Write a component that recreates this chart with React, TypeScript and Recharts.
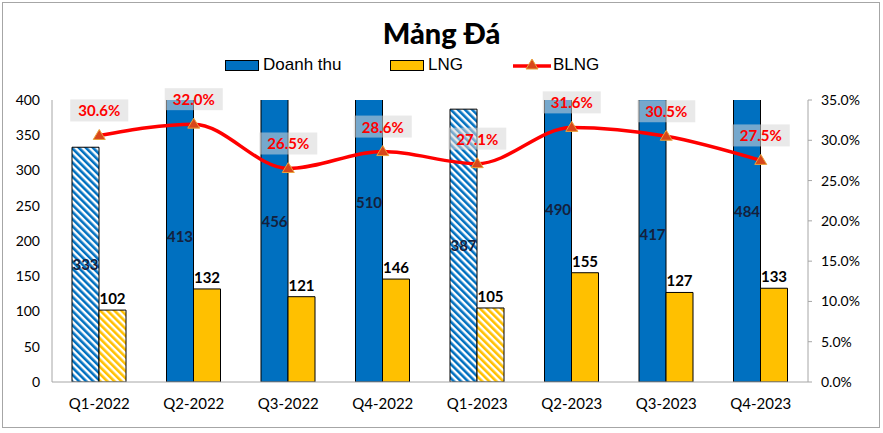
import { ComposedChart, Bar, Line, XAxis, YAxis, Cell, LabelList } from 'recharts';

const quarters = ['Q1-2022', 'Q2-2022', 'Q3-2022', 'Q4-2022', 'Q1-2023', 'Q2-2023', 'Q3-2023', 'Q4-2023'];
const doanhThu = [333, 413, 456, 510, 387, 490, 417, 484];
const lng = [102, 132, 121, 146, 105, 155, 127, 133];
const blng = [0.306, 0.32, 0.265, 0.286, 0.271, 0.316, 0.305, 0.275];
const hatched = [true, false, false, false, true, false, false, false];
const leftTicks = [0, 50, 100, 150, 200, 250, 300, 350, 400];
const rightTicks = [0, 0.05, 0.1, 0.15, 0.2, 0.25, 0.3, 0.35];

const chartData = quarters.map((q, i) => ({
  quarter: q,
  doanhThu: doanhThu[i],
  lng: lng[i],
  blng: blng[i]
}));

const BLUE = '#0070c0';
const YELLOW = '#ffc000';
const FONT = 'Lato, "Open Sans", sans-serif';
const LEGEND_FONT = '"Liberation Sans", Arial, sans-serif';

const pct = (v: number) => `${(v * 100).toFixed(1)}%`;

const Triangle = (props: any) => {
  const { cx, cy } = props;
  if (cx == null || cy == null) return null;
  return (
    <path
      d={`M${cx},${cy - 6} L${cx + 6},${cy + 4} L${cx - 6},${cy + 4} Z`}
      fill="#d8461b"
      stroke="#e9a23b"
      strokeWidth={1}
    />
  );
};

const RatioLabel = (props: any) => {
  const { x, y, value } = props;
  if (x == null || y == null) return null;
  const cy = y - 25;
  return (
    <g>
      <rect x={x - 29} y={cy - 11} width={58} height={22} fill="rgba(215,215,215,0.55)" />
      <text
        x={x}
        y={cy}
        textAnchor="middle"
        dominantBaseline="central"
        fill="#ff0000"
        fontFamily={FONT}
        fontWeight={700}
        fontSize={15}
      >
        {pct(value)}
      </text>
    </g>
  );
};

export default function App() {
  return (
    <div style={{ position: 'absolute', left: 0, top: 0, width: 883, height: 433, background: '#fff' }}>
      <div
        style={{
          position: 'absolute',
          left: 2,
          top: 2,
          width: 876,
          height: 424,
          border: '1px solid #a6a6a6'
        }}
      />
      <div
        style={{
          position: 'absolute',
          left: 0,
          width: 883,
          top: 15,
          textAlign: 'center',
          fontFamily: FONT,
          fontWeight: 900,
          fontSize: 29,
          color: '#000'
        }}
      >
        Mảng Đá
      </div>
      <div
        style={{
          position: 'absolute',
          top: 55,
          left: 225,
          display: 'flex',
          alignItems: 'center',
          fontFamily: LEGEND_FONT,
          fontSize: 17,
          color: '#000'
        }}
      >
        <div style={{ width: 32, height: 9, background: BLUE, border: '1px solid #000' }} />
        <span style={{ marginLeft: 4, width: 127 }}>Doanh thu</span>
        <div style={{ width: 32, height: 9, background: YELLOW, border: '1px solid #000' }} />
        <span style={{ marginLeft: 4, width: 85 }}>LNG</span>
        <svg width={38} height={14}>
          <line x1={0} y1={8} x2={38} y2={8} stroke="#ff0000" strokeWidth={3.5} />
          <Triangle cx={19} cy={7} />
        </svg>
        <span style={{ marginLeft: 2 }}>BLNG</span>
      </div>
      <ComposedChart
        width={883}
        height={433}
        data={chartData}
        margin={{ top: 100, right: 0, bottom: 21, left: 0 }}
        barGap={0}
        style={{ position: 'absolute', left: 0, top: 0 }}
      >
        <defs>
          <pattern id="hatchBlue" patternUnits="userSpaceOnUse" width={5} height={5} patternTransform="rotate(-45)">
            <rect width={5} height={5} fill="#fff" />
            <rect width={2.6} height={5} fill={BLUE} />
          </pattern>
          <pattern id="hatchYellow" patternUnits="userSpaceOnUse" width={5} height={5} patternTransform="rotate(-45)">
            <rect width={5} height={5} fill="#fff" />
            <rect width={2.6} height={5} fill={YELLOW} />
          </pattern>
        </defs>
        <XAxis
          dataKey="quarter"
          tickLine={false}
          axisLine={{ stroke: '#a6a6a6' }}
          tickMargin={10}
          tick={{ fill: '#000', fontFamily: FONT, fontSize: 15 }}
          interval={0}
        />
        <YAxis
          yAxisId="left"
          width={52}
          domain={[0, 400]}
          ticks={leftTicks}
          allowDataOverflow
          tickLine={false}
          axisLine={{ stroke: '#a6a6a6' }}
          tickMargin={6}
          tick={{ fill: '#000', fontFamily: FONT, fontSize: 14 }}
        />
        <YAxis
          yAxisId="right"
          orientation="right"
          width={75}
          domain={[0, 0.35]}
          ticks={rightTicks}
          tickFormatter={pct}
          tickSize={4}
          tickLine={{ stroke: '#a6a6a6' }}
          axisLine={{ stroke: '#a6a6a6' }}
          tickMargin={9}
          tick={{ fill: '#000', fontFamily: FONT, fontSize: 14, textAnchor: 'start' }}
        />
        <Bar
          yAxisId="left"
          dataKey="doanhThu"
          barSize={27}
          stroke="#000"
          strokeWidth={1}
          fill={BLUE}
          isAnimationActive={false}
        >
          {chartData.map((_, i) => (
            <Cell key={i} fill={hatched[i] ? 'url(#hatchBlue)' : BLUE} />
          ))}
          <LabelList
            dataKey="doanhThu"
            position="center"
            fill="#14213d"
            fontFamily={FONT}
            fontWeight={700}
            fontSize={15}
          />
        </Bar>
        <Bar
          yAxisId="left"
          dataKey="lng"
          barSize={27}
          stroke="#000"
          strokeWidth={1}
          fill={YELLOW}
          isAnimationActive={false}
        >
          {chartData.map((_, i) => (
            <Cell key={i} fill={hatched[i] ? 'url(#hatchYellow)' : YELLOW} />
          ))}
          <LabelList
            dataKey="lng"
            position="top"
            offset={6}
            fill="#000"
            fontFamily={FONT}
            fontWeight={700}
            fontSize={15}
          />
        </Bar>
        <Line
          yAxisId="right"
          dataKey="blng"
          type="monotone"
          stroke="#ff0000"
          strokeWidth={3.5}
          dot={<Triangle />}
          activeDot={false}
          isAnimationActive={false}
        >
          <LabelList dataKey="blng" content={<RatioLabel />} />
        </Line>
      </ComposedChart>
    </div>
  );
}
